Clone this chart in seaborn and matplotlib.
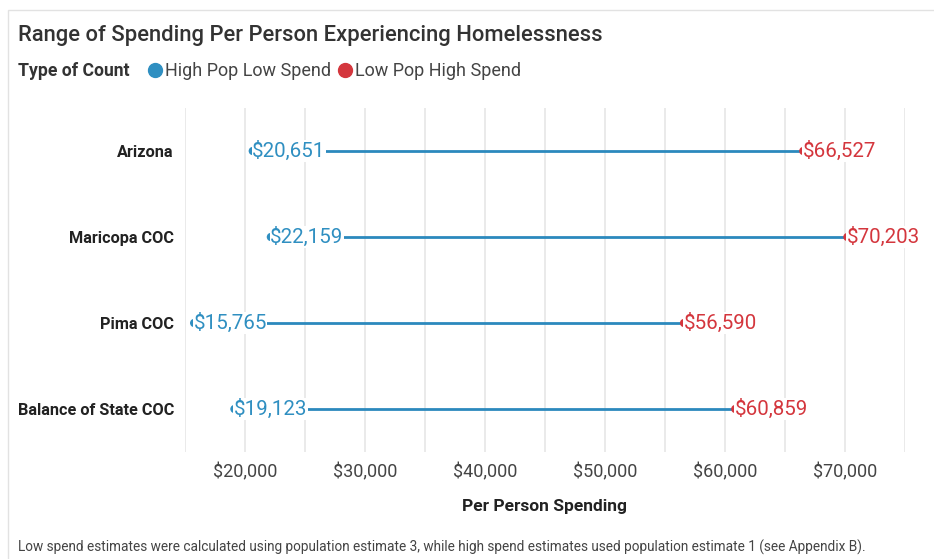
import matplotlib
matplotlib.use("Agg")
import matplotlib.pyplot as plt
from matplotlib.lines import Line2D
from matplotlib.patches import Rectangle
import seaborn as sns
import pandas as pd

regions = ["Arizona", "Maricopa COC", "Pima COC", "Balance of State COC"]
low_spend = [20651, 22159, 15765, 19123]
high_spend = [66527, 70203, 56590, 60859]
series_names = ["High Pop Low Spend", "Low Pop High Spend"]
tick_values = [20000, 30000, 40000, 50000, 60000, 70000]

BLUE = "#2f8fc1"
RED = "#d4363d"
LINE = "#2b89bd"

sns.set_theme(style="white")
plt.rcParams["font.family"] = ["Roboto", "DejaVu Sans"]

long = pd.DataFrame({
    "region": regions * 2,
    "value": low_spend + high_spend,
    "type": [series_names[0]] * len(regions) + [series_names[1]] * len(regions),
})

W, H = 934, 559
fig = plt.figure(figsize=(W / 100, H / 100), dpi=100)
ax = fig.add_axes([185 / W, 1 - 452 / H, (905 - 185) / W, (452 - 108) / H])

# grid lines every 5000
for gx in range(15000, 75001, 5000):
    ax.axvline(gx, color="#e6e6e6", lw=1.2, zorder=0)

pos = range(len(regions))
ax.hlines(list(pos), low_spend, high_spend, color=LINE, lw=2, zorder=2)

sns.stripplot(data=long, x="value", y="region", hue="type", order=regions,
              palette={series_names[0]: BLUE, series_names[1]: RED},
              jitter=False, size=6, linewidth=0, ax=ax, zorder=3, legend=False)

for i, (lo, hi) in enumerate(zip(low_spend, high_spend)):
    for v, c in ((lo, BLUE), (hi, RED)):
        ax.annotate(f"${v:,.0f}", (v, i), xytext=(-0.5, 0), textcoords="offset points",
                    ha="left", va="center", fontsize=14.8, color=c, zorder=4,
                    bbox=dict(boxstyle="square,pad=0.03", fc="white", ec="none"))

ax.set_xlim(15000, 75000)
ax.set_ylim(len(regions) - 0.5, -0.5)
ax.set_xticks(tick_values)
ax.set_xticklabels([f"${t:,.0f}" for t in tick_values], fontsize=13, color="#444444")
ax.set_yticks(list(pos))
ax.set_yticklabels(regions, fontsize=11.7, fontweight="bold", color="#222222")
ax.tick_params(axis="y", length=3, color="#dddddd", pad=5)
ax.tick_params(axis="x", length=0, pad=8)
ax.set_ylabel("")
ax.set_xlabel("Per Person Spending", fontsize=12.5, fontweight="bold", color="#222222", labelpad=13)
for s in ax.spines.values():
    s.set_visible(False)

# frame border
fig.add_artist(Rectangle((8 / W, -0.05), 1.1, 1 - 10 / H + 0.05, transform=fig.transFigure,
                         fill=False, ec="#e2e2e2", lw=1))

fig.text(18 / W, 1 - 35 / H, "Range of Spending Per Person Experiencing Homelessness",
         fontsize=15.8, fontweight="medium", color="#333333", va="center", ha="left")
fig.text(18 / W, 1 - 71 / H, "Type of Count", fontsize=12.7, fontweight="bold",
         color="#333333", va="center", ha="left")
handles = [Line2D([], [], marker="o", ls="none", color=BLUE, markersize=10),
           Line2D([], [], marker="o", ls="none", color=RED, markersize=10)]
fig.legend(handles, series_names, loc="center left", bbox_to_anchor=(132 / W, 1 - 71 / H),
           ncol=2, frameon=False, fontsize=13, handlelength=0.8, handletextpad=0.15,
           columnspacing=0.35, labelcolor="#444444")

fig.text(18 / W, 1 - 547 / H,
         "Low spend estimates were calculated using population estimate 3, while high spend estimates used population estimate 1 (see Appendix B).",
         fontsize=9.85, color="#444444", va="center", ha="left")

fig.savefig("out.png", dpi=100, facecolor="white")
